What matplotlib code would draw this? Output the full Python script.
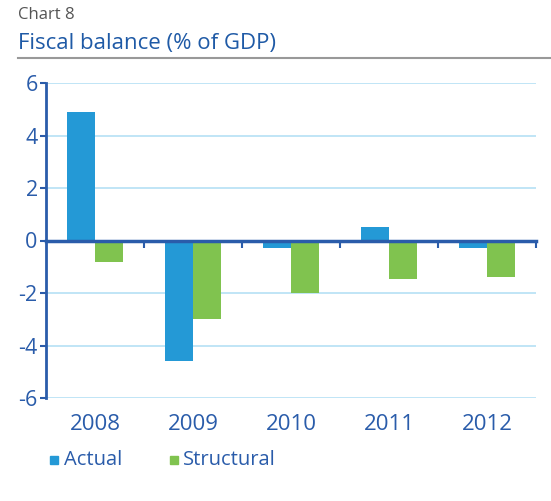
import matplotlib.pyplot as plt
import matplotlib.transforms as mtransforms
import numpy as np

years = ['2008', '2009', '2010', '2011', '2012']
actual = [4.9, -4.6, -0.3, 0.5, -0.3]
structural = [-0.8, -3.0, -2.0, -1.45, -1.4]
y_ticks = [-6, -4, -2, 0, 2, 4, 6]

blue_text = '#2A5CAA'
c_actual = '#2499D6'
c_struct = '#80C34F'

plt.rcParams['font.family'] = ['Open Sans', 'DejaVu Sans']

fig = plt.figure(figsize=(5.51, 5.01), dpi=100)
ax = fig.add_axes([46/551, 1-398/501, 490/551, 315/501])

x = np.arange(len(years))
w = 0.29
ax.bar(x - w/2, actual, w, color=c_actual, zorder=2)
ax.bar(x + w/2, structural, w, color=c_struct, zorder=2)

ax.set_xlim(-0.5, len(years) - 0.5)
ax.set_ylim(-6, 6)
ax.set_yticks(y_ticks)
ax.set_yticklabels([str(v) for v in y_ticks], color=blue_text, fontsize=15.5)
ax.yaxis.grid(True, color='#B5E0F5', linewidth=1.2, zorder=0)
ax.tick_params(axis='y', length=4, width=1.5, color=blue_text, pad=2)

for s in ['top', 'right']:
    ax.spines[s].set_visible(False)
ax.spines['left'].set_color(blue_text)
ax.spines['left'].set_linewidth(2)
ax.spines['bottom'].set_position(('data', 0))
ax.spines['bottom'].set_color(blue_text)
ax.spines['bottom'].set_linewidth(2.5)
ax.spines['bottom'].set_zorder(3)

# category boundary ticks on the zero line
ax.set_xticks(x)
ax.set_xticklabels([])
ax.tick_params(axis='x', which='major', length=0)
ax.set_xticks(list(x[:-1] + 0.5) + [len(years) - 0.5], minor=True)
ax.tick_params(axis='x', which='minor', length=5, width=1.5, color=blue_text, direction='out')

trans = mtransforms.blended_transform_factory(ax.transData, ax.transAxes)
for i, yr in enumerate(years):
    ax.text(i, -0.085, yr, transform=trans, ha='center', va='center',
            color=blue_text, fontsize=16)

# title block
fig.text(18/551, 1-15/501, 'Chart 8', color='#555555', fontsize=12, va='center')
fig.text(18/551, 1-43/501, 'Fiscal balance (% of GDP)', color='#1F5AA6',
         fontsize=16, va='center')
fig.add_artist(plt.Line2D([18/551, 1], [1-58/501, 1-58/501], color='#999999',
                          linewidth=1.5, transform=fig.transFigure))

# legend
fig.patches.append(plt.Rectangle((50/551, 1-464/501), 8/551, 8/501,
                                 color=c_actual, transform=fig.transFigure))
fig.text(64/551, 1-460/501, 'Actual', color=blue_text, fontsize=14.5, va='center')
fig.patches.append(plt.Rectangle((170/551, 1-464/501), 8/551, 8/501,
                                 color=c_struct, transform=fig.transFigure))
fig.text(183/551, 1-460/501, 'Structural', color=blue_text, fontsize=14.5, va='center')

fig.savefig('out.png', dpi=100)
